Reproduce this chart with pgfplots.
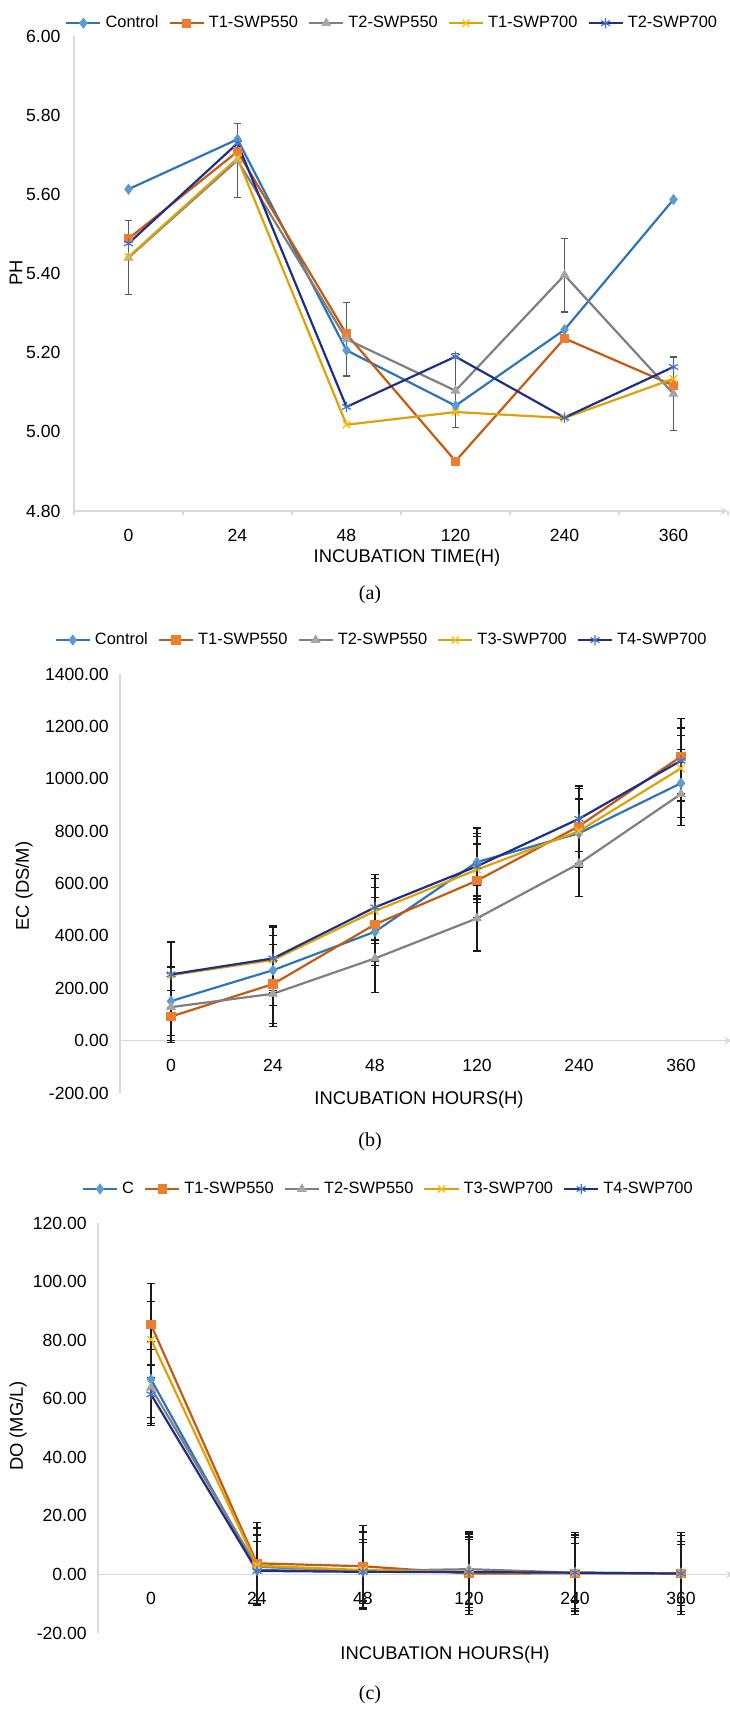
\documentclass[border=0pt]{standalone}
\usepackage{fontspec}
\setmainfont{Liberation Sans}
\newfontfamily\capfont{Liberation Serif}
\usepackage{pgfplots}
\pgfplotsset{compat=1.18}

\definecolor{axgray}{HTML}{D9D9D9}
\definecolor{cBlueL}{HTML}{2E75B6}
\definecolor{cBlueM}{HTML}{5B9BD5}
\definecolor{cOrL}{HTML}{C55A11}
\definecolor{cOrM}{HTML}{ED7D31}
\definecolor{cGrL}{HTML}{7F7F7F}
\definecolor{cGrM}{HTML}{A5A5A5}
\definecolor{cYeL}{HTML}{DDA20A}
\definecolor{cYeM}{HTML}{FFC000}
\definecolor{cNvL}{HTML}{1F2F86}
\definecolor{cNvM}{HTML}{4472C4}
\definecolor{errc}{HTML}{1A1A1A}

\pgfplotsset{
  common/.style={
    scale only axis,
    xmin=-0.5, xmax=5.5,
    xtick={0,...,5},
    xticklabels={0,24,48,120,240,360},
    axis y line=left,
    ytick style={draw=none},
    axis line style={-, draw=axgray, line width=0.75pt},
    tick label style={font=\fontsize{8.8}{10}\selectfont},
    /pgf/number format/assume math mode=true,
    y tick label style={/pgf/number format/fixed, /pgf/number format/fixed zerofill,
      /pgf/number format/precision=2, /pgf/number format/1000 sep={}},
    legend style={draw=none, fill=none, font=\fontsize{8.2}{10}\selectfont,
      legend columns=5, /tikz/every even column/.append style={column sep=3pt},
      inner sep=0pt},
    legend cell align=left,
  },
  sBlue/.style={color=cBlueL, line width=1.1pt, mark=diamond*, mark size=2.5pt,
    mark options={fill=cBlueM, draw=cBlueM, line width=0.4pt}},
  sOr/.style={color=cOrL, line width=1.1pt, mark=square*, mark size=2.1pt,
    mark options={fill=cOrM, draw=cOrM, line width=0.4pt}},
  sGr/.style={color=cGrL, line width=1.1pt, mark=triangle*, mark size=2.5pt,
    mark options={fill=cGrM, draw=cGrM, line width=0.4pt}},
  sYe/.style={color=cYeL, line width=1.1pt, mark=x, mark size=2.5pt,
    mark options={draw=cYeM, line width=0.7pt}},
  sNv/.style={color=cNvL, line width=1.1pt, mark=asterisk, mark size=2.6pt,
    mark options={draw=cNvM, line width=0.6pt}},
  eb/.style={error bars/.cd, y dir=both, y explicit,
    error bar style={color=errc, line width=0.6pt},
    error mark options={rotate=90, mark size=1.8pt, line width=0.6pt, color=errc}},
}

\begin{document}
\begin{tikzpicture}
\useasboundingbox (0,0) rectangle (364.5pt,-854.5pt);

% (a) pH
\begin{axis}[common,
  at={(37pt,-255.5pt)}, anchor=south west,
  width=327pt, height=237.5pt,
  ymin=4.8, ymax=6.0, ytick={4.8,5.0,...,6.0},
  axis x line=bottom,
  major x tick style={draw=none},
  minor xtick={-0.5,0.5,...,5.5},
  minor x tick style={draw=axgray, line width=0.75pt},
  minor tick length=2pt, tick align=outside,
  x tick label style={yshift=-1.5pt},
  y tick label style={xshift=1pt},
  legend style={at={(0.488,1.027)}, anchor=center},
]
\addplot[sBlue] coordinates {(0,5.613) (1,5.739) (2,5.206) (3,5.066) (4,5.258) (5,5.587)};
\addlegendentry{Control}
\addplot[sOr] coordinates {(0,5.488) (1,5.708) (2,5.247) (3,4.926) (4,5.236) (5,5.117)};
\addlegendentry{T1-SWP550}
\addplot[sGr, error bars/.cd, y dir=both, y explicit,
    error bar style={color=cGrL!70!black, line width=0.6pt},
    error mark options={rotate=90, mark size=1.8pt, line width=0.6pt, color=cGrL!70!black}]
  coordinates {(0,5.440) +- (0,0.093) (1,5.686) +- (0,0.093) (2,5.234) +- (0,0.093)
               (3,5.104) +- (0,0.093) (4,5.396) +- (0,0.093) (5,5.096) +- (0,0.093)};
\addlegendentry{T2-SWP550}
\addplot[sYe] coordinates {(0,5.442) (1,5.691) (2,5.018) (3,5.050) (4,5.035) (5,5.134)};
\addlegendentry{T1-SWP700}
\addplot[sNv] coordinates {(0,5.476) (1,5.729) (2,5.063) (3,5.190) (4,5.036) (5,5.164)};
\addlegendentry{T2-SWP700}
\end{axis}

% (b) EC
\begin{axis}[common,
  at={(60pt,-546.5pt)}, anchor=south west,
  width=306pt, height=209.5pt,
  ymin=-200, ymax=1400, ytick={-200,0,...,1400},
  axis x line=middle, hide obscured y ticks=false, hide obscured x ticks=false,
  xtick style={draw=none},
  x tick label style={yshift=-3.5pt},
  legend style={at={(0.429,1.081)}, anchor=center},
]
\addplot[sBlue, eb] coordinates {(0,151) +- (0,130) (1,269) +- (0,134) (2,416) +- (0,130)
  (3,682) +- (0,130) (4,792) +- (0,130) (5,983) +- (0,130)};
\addlegendentry{Control}
\addplot[sOr, eb] coordinates {(0,92) +- (0,100) (1,216) +- (0,150) (2,444) +- (0,140)
  (3,611) +- (0,140) (4,819) +- (0,145) (5,1085) +- (0,145)};
\addlegendentry{T1-SWP550}
\addplot[sGr, eb] coordinates {(0,128) +- (0,127) (1,179) +- (0,125) (2,314) +- (0,130)
  (3,467) +- (0,125) (4,676) +- (0,126) (5,942) +- (0,120)};
\addlegendentry{T2-SWP550}
\addplot[sYe, eb] coordinates {(0,250) +- (0,125) (1,308) +- (0,125) (2,495) +- (0,125)
  (3,653) +- (0,125) (4,800) +- (0,125) (5,1040) +- (0,125)};
\addlegendentry{T3-SWP700}
\addplot[sNv, eb] coordinates {(0,253) +- (0,127) (1,314) +- (0,124) (2,509) +- (0,125)
  (3,666) +- (0,125) (4,847) +- (0,125) (5,1069) +- (0,125)};
\addlegendentry{T4-SWP700}
\end{axis}

% (c) DO
\begin{axis}[common,
  at={(49pt,-816.5pt)}, anchor=south west,
  width=318pt, height=205pt,
  ymin=-20, ymax=120, ytick={-20,0,...,120},
  axis x line=middle, hide obscured y ticks=false, hide obscured x ticks=false,
  xtick style={draw=none},
  x tick label style={yshift=-3pt},
  legend style={at={(0.458,1.083)}, anchor=center},
]
\addplot[sBlue, eb] coordinates {(0,66.6) +- (0,13) (1,1.5) +- (0,12) (2,1.0) +- (0,11)
  (3,0.8) +- (0,12) (4,0.5) +- (0,12) (5,0.3) +- (0,11)};
\addlegendentry{C}
\addplot[sOr, eb] coordinates {(0,85.3) +- (0,14) (1,3.8) +- (0,14) (2,2.8) +- (0,14)
  (3,0.3) +- (0,14) (4,0.4) +- (0,14) (5,0.4) +- (0,14)};
\addlegendentry{T1-SWP550}
\addplot[sGr, eb] coordinates {(0,63.8) +- (0,13) (1,2.6) +- (0,13) (2,1.2) +- (0,13)
  (3,1.8) +- (0,13) (4,0.6) +- (0,13) (5,0.4) +- (0,13)};
\addlegendentry{T2-SWP550}
\addplot[sYe, eb] coordinates {(0,80.2) +- (0,13) (1,3.0) +- (0,13) (2,1.5) +- (0,13)
  (3,0.8) +- (0,13) (4,0.5) +- (0,13) (5,0.3) +- (0,13)};
\addlegendentry{T3-SWP700}
\addplot[sNv, eb] coordinates {(0,61.5) +- (0,10) (1,1.2) +- (0,10) (2,0.9) +- (0,10)
  (3,0.8) +- (0,11) (4,0.6) +- (0,10) (5,0.3) +- (0,10)};
\addlegendentry{T4-SWP700}
\end{axis}

% titles and captions
\node[rotate=90, font=\fontsize{9.2}{11}\selectfont] at (8pt,-136.5pt) {PH};
\node[font=\fontsize{9.2}{11}\selectfont] at (203.5pt,-279pt) {INCUBATION TIME(H)};
\node[font=\capfont\fontsize{10}{12}\selectfont] at (185pt,-297.5pt) {(a)};

\node[rotate=90, font=\fontsize{9.2}{11}\selectfont] at (12pt,-443pt) {EC (DS/M)};
\node[font=\fontsize{9.2}{11}\selectfont] at (209.5pt,-550pt) {INCUBATION HOURS(H)};
\node[font=\capfont\fontsize{10}{12}\selectfont] at (185pt,-571pt) {(b)};

\node[rotate=90, font=\fontsize{9.2}{11}\selectfont] at (9pt,-713pt) {DO (MG/L)};
\node[font=\fontsize{9.2}{11}\selectfont] at (222.5pt,-827.5pt) {INCUBATION HOURS(H)};
\node[font=\capfont\fontsize{10}{12}\selectfont] at (185pt,-847.5pt) {(c)};
\end{tikzpicture}
\end{document}
